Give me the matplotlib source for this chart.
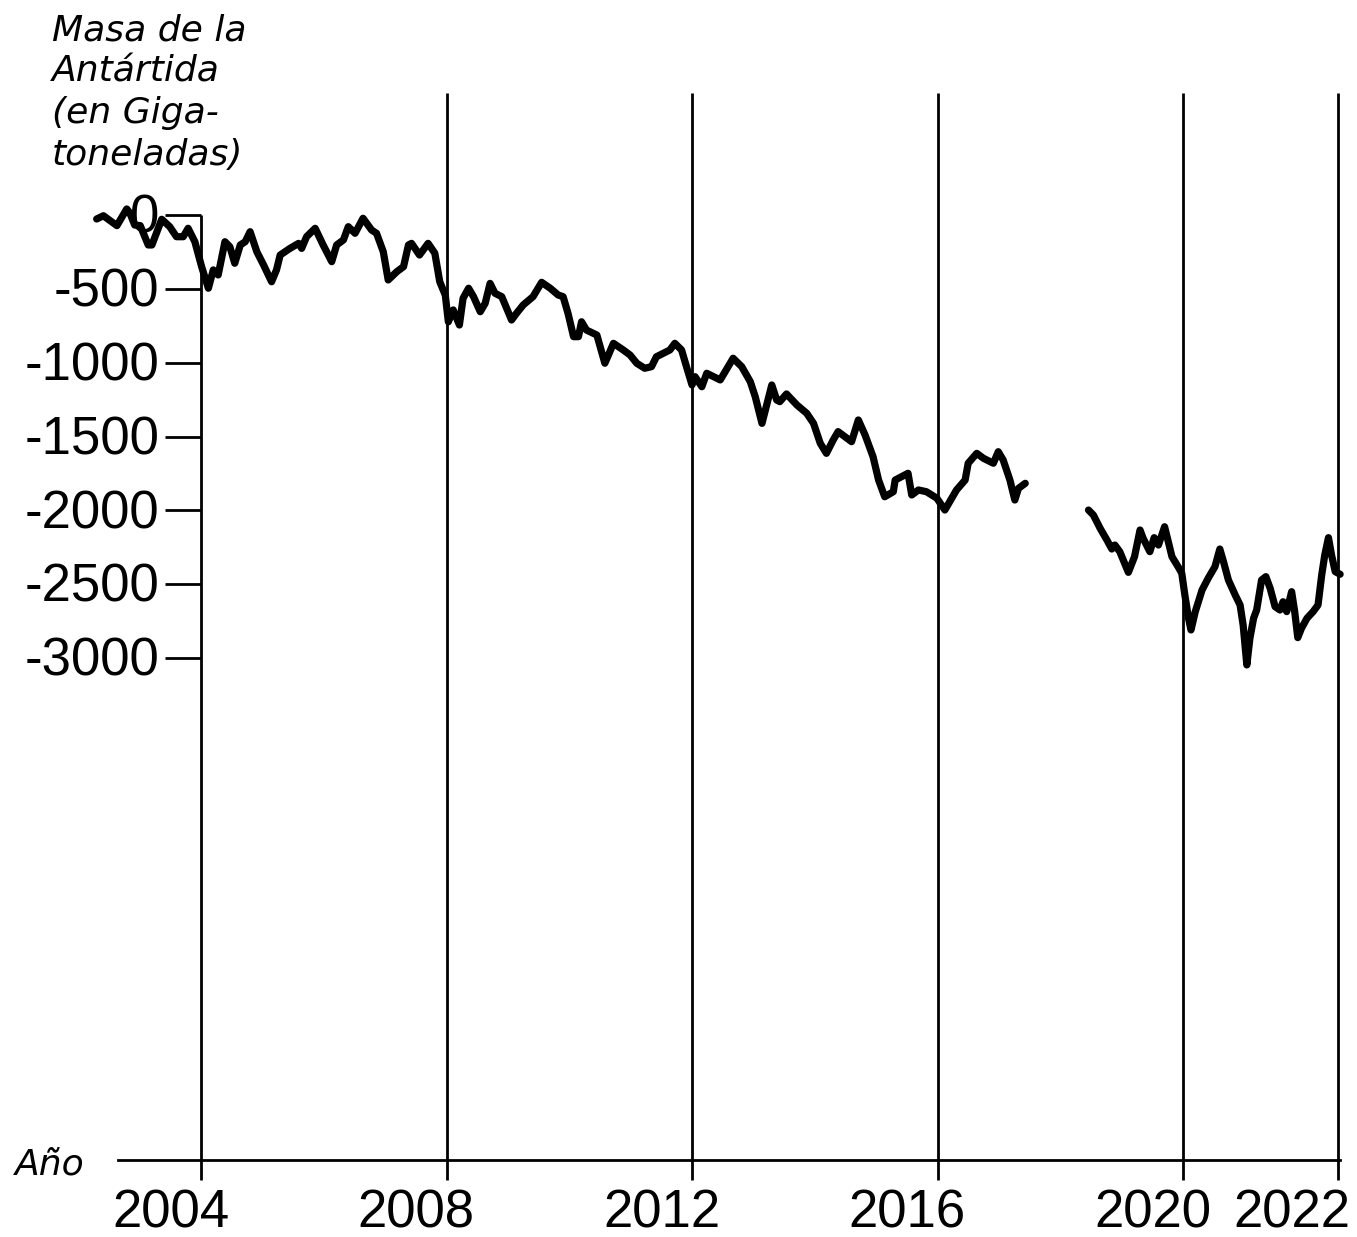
#!/usr/bin/env python3
"""
Antarctic ice mass (GRACE / GRACE-FO), in gigatonnes
"""

import matplotlib.pyplot as plt

# GRACE segment (2002 - 2017)
grace_year = [2002.30, 2002.41, 2002.63, 2002.79, 2002.84, 2002.92, 2003.01, 2003.14, 2003.20,
              2003.36, 2003.49, 2003.60, 2003.71, 2003.79, 2003.90, 2004.01, 2004.12, 2004.20,
              2004.28, 2004.39, 2004.47, 2004.55, 2004.64, 2004.72, 2004.80, 2004.91, 2005.02,
              2005.15, 2005.23, 2005.29, 2005.45, 2005.59, 2005.64, 2005.72, 2005.86, 2005.99,
              2006.13, 2006.21, 2006.32, 2006.40, 2006.51, 2006.64, 2006.78, 2006.86, 2006.97,
              2007.05, 2007.19, 2007.30, 2007.38, 2007.43, 2007.56, 2007.70, 2007.81, 2007.89,
              2007.98, 2008.03, 2008.11, 2008.21, 2008.27, 2008.36, 2008.44, 2008.55, 2008.63,
              2008.71, 2008.79, 2008.90, 2008.98, 2009.06, 2009.14, 2009.25, 2009.41, 2009.55,
              2009.69, 2009.82, 2009.90, 2009.98, 2010.07, 2010.15, 2010.20, 2010.28, 2010.45,
              2010.58, 2010.72, 2010.88, 2010.99, 2011.10, 2011.23, 2011.34, 2011.42, 2011.53,
              2011.64, 2011.72, 2011.83, 2011.91, 2012.00, 2012.05, 2012.16, 2012.24, 2012.46,
              2012.67, 2012.81, 2012.95, 2013.03, 2013.14, 2013.30, 2013.38, 2013.43, 2013.54,
              2013.71, 2013.87, 2013.98, 2014.09, 2014.19, 2014.30, 2014.38, 2014.60, 2014.71,
              2014.82, 2014.95, 2015.04, 2015.14, 2015.28, 2015.31, 2015.52, 2015.58, 2015.69,
              2015.82, 2015.99, 2016.12, 2016.31, 2016.45, 2016.50, 2016.64, 2016.75, 2016.91,
              2016.99, 2017.07, 2017.18, 2017.26, 2017.32, 2017.43]
grace_mass = [-27, -5, -72, 41, 14, -68, -72, -203, -203,
              -29, -79, -147, -147, -90, -181, -350, -496, -372,
              -406, -181, -215, -327, -203, -181, -113, -249, -339,
              -452, -372, -271, -226, -192, -226, -147, -90, -203,
              -316, -203, -169, -79, -124, -22, -102, -124, -249,
              -440, -384, -350, -203, -192, -271, -192, -259, -452,
              -542, -723, -643, -745, -564, -496, -553, -655, -598,
              -463, -530, -553, -632, -711, -666, -609, -553, -456,
              -496, -542, -553, -666, -824, -824, -723, -779, -813,
              -1004, -869, -914, -948, -1004, -1038, -1027, -960, -937,
              -914, -869, -914, -1027, -1151, -1095, -1163, -1072, -1117,
              -970, -1027, -1129, -1230, -1411, -1151, -1253, -1264, -1212,
              -1287, -1343, -1411, -1546, -1614, -1524, -1467, -1535, -1388,
              -1490, -1637, -1795, -1908, -1874, -1795, -1749, -1896, -1862,
              -1874, -1918, -1998, -1862, -1795, -1681, -1614, -1648, -1681,
              -1603, -1659, -1795, -1930, -1851, -1817]

# GRACE-FO segment (2018 - 2022)
fo_year = [2018.46, 2018.54, 2018.65, 2018.76, 2018.84, 2018.89, 2018.97, 2019.11, 2019.21,
           2019.30, 2019.35, 2019.46, 2019.53, 2019.60, 2019.70, 2019.76, 2019.82, 2019.92,
           2019.98, 2020.03, 2020.09, 2020.13, 2020.20, 2020.31, 2020.41, 2020.52, 2020.60,
           2020.66, 2020.74, 2020.85, 2020.93, 2020.98, 2021.04, 2021.09, 2021.15, 2021.20,
           2021.28, 2021.35, 2021.42, 2021.50, 2021.58, 2021.63, 2021.69, 2021.77, 2021.82,
           2021.87, 2021.93, 2022.02, 2022.12, 2022.20, 2022.26, 2022.31, 2022.37, 2022.42,
           2022.48, 2022.56]
fo_mass = [-1998, -2032, -2122, -2201, -2262, -2235, -2280, -2420, -2314,
           -2133, -2189, -2280, -2185, -2235, -2111, -2212, -2314, -2382,
           -2426, -2573, -2731, -2810, -2686, -2540, -2460, -2382, -2262,
           -2348, -2472, -2573, -2641, -2777, -3047, -2867, -2731, -2675,
           -2472, -2449, -2528, -2652, -2675, -2619, -2686, -2551, -2686,
           -2862, -2799, -2731, -2686, -2641, -2438, -2302, -2185, -2302,
           -2415, -2433]

x_ticks = [2004, 2008, 2012, 2016, 2020, 2022.525]
x_labels = ['2004', '2008', '2012', '2016', '2020', '2022']
y_ticks = [0, -500, -1000, -1500, -2000, -2500, -3000]
y_labels = ['0', '-500', '-1000', '-1500', '-2000', '-2500', '-3000']

title_lines = ['Masa de la', 'Antártida', '(en Giga-', 'toneladas)']


def main():
    fig = plt.figure(figsize=(13.57, 12.37), dpi=100)
    ax = fig.add_axes([0, 0, 1, 1])
    ax.set_xlim(2000.725, 2022.835)
    ax.set_ylim(-6921, 1456)
    ax.axis('off')

    tick_font = dict(family='Liberation Sans', fontsize=38, color='black')
    label_font = dict(family='DejaVu Sans', style='italic', fontsize=26, color='black')

    y_bottom = -6400   # x axis line
    grid_top = 826
    tick_end = -6535

    # vertical grid lines / x ticks
    for i, (t, lab) in enumerate(zip(x_ticks, x_labels)):
        top = 0 if i == 0 else grid_top
        ax.plot([t, t], [top, tick_end], color='black', lw=2, solid_capstyle='butt')
        ax.text(min(t + 0.46, 2022.73), -6855, lab, ha='right', va='baseline', **tick_font)

    # x axis line
    ax.plot([2002.65, x_ticks[-1] + 0.03], [y_bottom, y_bottom], color='black', lw=2)

    # y ticks
    for t, lab in zip(y_ticks, y_labels):
        ax.plot([2003.41, 2004], [t, t], color='black', lw=2, solid_capstyle='butt')
        ax.text(2003.32, t - 25, lab, ha='right', va='center', **tick_font)

    # data
    ax.plot(grace_year, grace_mass, color='black', lw=5.2,
            solid_joinstyle='round', solid_capstyle='round')
    ax.plot(fo_year, fo_mass, color='black', lw=5.2,
            solid_joinstyle='round', solid_capstyle='round')

    # titles
    for i, line in enumerate(title_lines):
        ax.text(2001.57, 1185 - i * 282, line, ha='left', va='baseline', **label_font)
    ax.text(2000.96, -6500, 'Año', ha='left', va='baseline', **label_font)

    fig.savefig('out.png', dpi=100)


if __name__ == '__main__':
    main()
